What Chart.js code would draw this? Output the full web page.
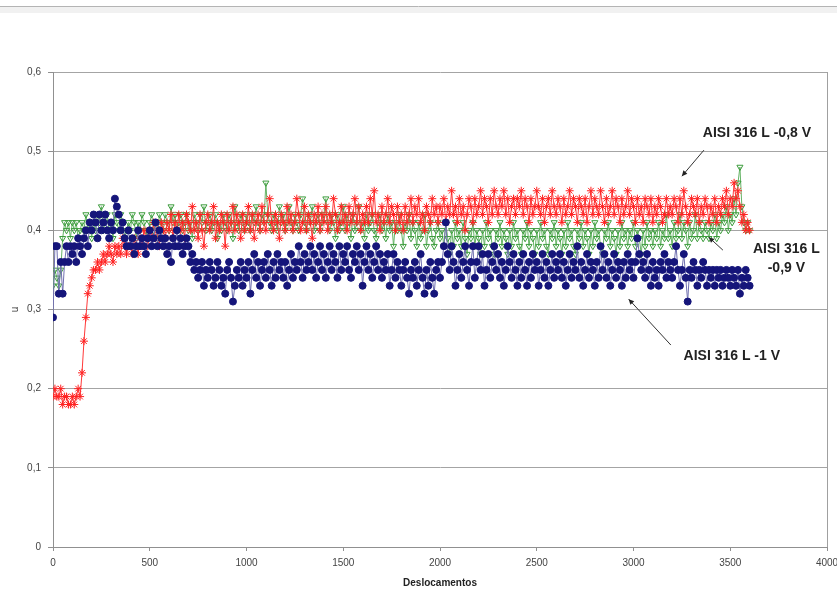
<!DOCTYPE html>
<html>
<head>
<meta charset="utf-8">
<script src="https://cdn.jsdelivr.net/npm/chart.js@4.4.0/dist/chart.umd.min.js"></script>
<style>
  html, body { margin: 0; padding: 0; background: #ffffff; }
  #wrap { width: 837px; height: 593px; position: relative; }
</style>
</head>
<body>
<div id="wrap"><canvas id="grafico" width="837" height="593"></canvas></div>
<script>
// Deslocamentos (eixo x)
const deslocamentos = [
  0,10,20,30,40,50,60,70,80,90,100,110,120,130,140,150,160,170,180,190,
  200,210,220,230,240,250,260,270,280,290,300,310,320,330,340,350,360,370,380,390,
  400,410,420,430,440,450,460,470,480,490,500,510,520,530,540,550,560,570,580,590,
  600,610,620,630,640,650,660,670,680,690,700,710,720,730,740,750,760,770,780,790,
  800,810,820,830,840,850,860,870,880,890,900,910,920,930,940,950,960,970,980,990,
  1000,1010,1020,1030,1040,1050,1060,1070,1080,1090,1100,1110,1120,1130,1140,1150,1160,1170,1180,1190,
  1200,1210,1220,1230,1240,1250,1260,1270,1280,1290,1300,1310,1320,1330,1340,1350,1360,1370,1380,1390,
  1400,1410,1420,1430,1440,1450,1460,1470,1480,1490,1500,1510,1520,1530,1540,1550,1560,1570,1580,1590,
  1600,1610,1620,1630,1640,1650,1660,1670,1680,1690,1700,1710,1720,1730,1740,1750,1760,1770,1780,1790,
  1800,1810,1820,1830,1840,1850,1860,1870,1880,1890,1900,1910,1920,1930,1940,1950,1960,1970,1980,1990,
  2000,2010,2020,2030,2040,2050,2060,2070,2080,2090,2100,2110,2120,2130,2140,2150,2160,2170,2180,2190,
  2200,2210,2220,2230,2240,2250,2260,2270,2280,2290,2300,2310,2320,2330,2340,2350,2360,2370,2380,2390,
  2400,2410,2420,2430,2440,2450,2460,2470,2480,2490,2500,2510,2520,2530,2540,2550,2560,2570,2580,2590,
  2600,2610,2620,2630,2640,2650,2660,2670,2680,2690,2700,2710,2720,2730,2740,2750,2760,2770,2780,2790,
  2800,2810,2820,2830,2840,2850,2860,2870,2880,2890,2900,2910,2920,2930,2940,2950,2960,2970,2980,2990,
  3000,3010,3020,3030,3040,3050,3060,3070,3080,3090,3100,3110,3120,3130,3140,3150,3160,3170,3180,3190,
  3200,3210,3220,3230,3240,3250,3260,3270,3280,3290,3300,3310,3320,3330,3340,3350,3360,3370,3380,3390,
  3400,3410,3420,3430,3440,3450,3460,3470,3480,3490,3500,3510,3520,3530,3540,3550,3560,3570,3580,3590,
  3600
];

// Coeficiente de atrito - AISI 316 L, -1 V
const atrito_1V = [
  0.29,0.38,0.38,0.32,0.36,0.32,0.36,0.38,0.36,0.38, 0.37,0.38,0.36,0.39,0.38,0.37,0.39,0.40,0.38,0.41,
  0.40,0.42,0.41,0.39,0.42,0.40,0.41,0.42,0.40,0.39, 0.41,0.40,0.44,0.43,0.42,0.40,0.41,0.39,0.38,0.40,
  0.38,0.39,0.37,0.38,0.40,0.38,0.39,0.38,0.37,0.39, 0.40,0.38,0.39,0.41,0.38,0.40,0.39,0.38,0.39,0.37,
  0.38,0.36,0.39,0.38,0.40,0.38,0.39,0.37,0.38,0.39, 0.38,0.36,0.37,0.35,0.36,0.34,0.35,0.36,0.33,0.35,
  0.34,0.36,0.35,0.33,0.34,0.36,0.35,0.33,0.34,0.32, 0.35,0.36,0.34,0.31,0.33,0.35,0.34,0.36,0.33,0.35,
  0.34,0.36,0.32,0.35,0.37,0.34,0.36,0.33,0.35,0.36, 0.34,0.37,0.35,0.33,0.36,0.34,0.37,0.35,0.36,0.34,
  0.36,0.33,0.35,0.37,0.34,0.36,0.35,0.38,0.36,0.34, 0.37,0.35,0.36,0.38,0.35,0.37,0.34,0.36,0.38,0.35,
  0.37,0.34,0.36,0.38,0.35,0.37,0.36,0.34,0.38,0.35, 0.37,0.36,0.38,0.35,0.34,0.37,0.36,0.38,0.35,0.37,
  0.33,0.36,0.38,0.35,0.37,0.34,0.36,0.38,0.35,0.37, 0.34,0.36,0.35,0.37,0.33,0.35,0.37,0.34,0.36,0.35,
  0.33,0.35,0.36,0.34,0.32,0.35,0.34,0.36,0.33,0.35, 0.37,0.34,0.32,0.35,0.33,0.36,0.34,0.32,0.35,0.36,
  0.34,0.36,0.38,0.41,0.37,0.35,0.38,0.36,0.33,0.35, 0.37,0.34,0.36,0.38,0.35,0.33,0.36,0.38,0.34,0.36,
  0.38,0.35,0.37,0.33,0.35,0.37,0.34,0.36,0.38,0.35, 0.37,0.34,0.36,0.33,0.35,0.38,0.36,0.34,0.37,0.35,
  0.33,0.36,0.34,0.37,0.35,0.33,0.36,0.34,0.37,0.35, 0.36,0.33,0.35,0.37,0.34,0.36,0.33,0.35,0.37,0.34,
  0.36,0.35,0.37,0.34,0.36,0.33,0.35,0.37,0.34,0.36, 0.35,0.38,0.34,0.36,0.33,0.35,0.37,0.34,0.36,0.35,
  0.33,0.36,0.34,0.38,0.35,0.37,0.34,0.36,0.33,0.35, 0.37,0.34,0.36,0.35,0.33,0.36,0.34,0.37,0.35,0.36,
  0.34,0.36,0.39,0.37,0.35,0.36,0.34,0.37,0.35,0.33, 0.36,0.34,0.35,0.33,0.36,0.35,0.37,0.34,0.36,0.35,
  0.34,0.36,0.38,0.35,0.33,0.35,0.37,0.34,0.31,0.35, 0.34,0.36,0.35,0.33,0.35,0.34,0.36,0.35,0.33,0.35,
  0.34,0.35,0.33,0.35,0.34,0.35,0.33,0.34,0.35,0.34, 0.33,0.35,0.34,0.33,0.35,0.32,0.34,0.33,0.35,0.34,
  0.33
];

// Coeficiente de atrito - AISI 316 L, -0,8 V
const atrito_08V = [
  0.19,0.20,0.19,0.19,0.20,0.18,0.19,0.19,0.18,0.18, 0.19,0.18,0.19,0.20,0.19,0.22,0.26,0.29,0.32,0.33,
  0.34,0.35,0.35,0.36,0.35,0.36,0.37,0.36,0.37,0.38, 0.37,0.36,0.38,0.37,0.38,0.37,0.39,0.38,0.37,0.38,
  0.38,0.37,0.39,0.38,0.37,0.39,0.38,0.40,0.39,0.38, 0.40,0.39,0.41,0.39,0.40,0.38,0.41,0.40,0.39,0.41,
  0.40,0.42,0.39,0.41,0.40,0.42,0.40,0.41,0.39,0.42, 0.41,0.40,0.43,0.40,0.41,0.39,0.42,0.40,0.38,0.41,
  0.42,0.40,0.41,0.43,0.39,0.41,0.40,0.42,0.41,0.38, 0.42,0.40,0.41,0.43,0.40,0.42,0.41,0.39,0.42,0.40,
  0.41,0.43,0.40,0.42,0.39,0.41,0.42,0.40,0.43,0.41, 0.40,0.42,0.44,0.41,0.40,0.42,0.41,0.39,0.42,0.41,
  0.40,0.43,0.41,0.42,0.40,0.41,0.44,0.42,0.40,0.41, 0.43,0.40,0.42,0.41,0.39,0.42,0.41,0.43,0.40,0.42,
  0.41,0.43,0.40,0.42,0.41,0.44,0.42,0.40,0.41,0.43, 0.41,0.42,0.40,0.43,0.41,0.42,0.44,0.41,0.43,0.40,
  0.42,0.41,0.43,0.41,0.44,0.42,0.45,0.41,0.42,0.40, 0.43,0.41,0.42,0.44,0.41,0.43,0.42,0.40,0.43,0.41,
  0.42,0.40,0.43,0.41,0.42,0.44,0.41,0.43,0.42,0.44, 0.41,0.42,0.40,0.43,0.42,0.41,0.44,0.42,0.43,0.41,
  0.43,0.42,0.44,0.41,0.43,0.42,0.45,0.42,0.43,0.41, 0.44,0.42,0.43,0.40,0.42,0.44,0.43,0.41,0.44,0.42,
  0.43,0.45,0.42,0.44,0.43,0.41,0.44,0.42,0.45,0.43, 0.42,0.44,0.43,0.45,0.42,0.44,0.41,0.43,0.44,0.42,
  0.44,0.43,0.45,0.42,0.44,0.43,0.41,0.44,0.42,0.43, 0.45,0.43,0.42,0.44,0.41,0.43,0.44,0.42,0.45,0.43,
  0.42,0.44,0.43,0.41,0.44,0.42,0.43,0.45,0.42,0.44, 0.43,0.41,0.44,0.43,0.42,0.44,0.41,0.43,0.45,0.42,
  0.44,0.43,0.42,0.45,0.43,0.41,0.44,0.42,0.43,0.45, 0.42,0.44,0.43,0.41,0.44,0.42,0.43,0.45,0.42,0.44,
  0.43,0.41,0.44,0.42,0.43,0.41,0.44,0.43,0.42,0.44, 0.41,0.43,0.42,0.44,0.43,0.41,0.42,0.44,0.42,0.43,
  0.42,0.44,0.43,0.41,0.44,0.42,0.45,0.43,0.41,0.42, 0.44,0.43,0.42,0.44,0.41,0.43,0.42,0.44,0.43,0.41,
  0.43,0.42,0.44,0.41,0.43,0.42,0.44,0.43,0.45,0.42, 0.44,0.43,0.46,0.44,0.45,0.43,0.41,0.42,0.40,0.41,
  0.40
];

// Coeficiente de atrito - AISI 316 L, -0,9 V
const atrito_09V = [
  0.33,0.35,0.34,0.33,0.35,0.39,0.41,0.40,0.41,0.39, 0.41,0.40,0.41,0.39,0.40,0.41,0.40,0.42,0.40,0.41,
  0.39,0.41,0.40,0.42,0.41,0.43,0.40,0.41,0.42,0.40, 0.41,0.39,0.42,0.41,0.40,0.42,0.41,0.39,0.40,0.41,
  0.40,0.42,0.41,0.39,0.41,0.40,0.42,0.41,0.40,0.39, 0.41,0.42,0.40,0.41,0.39,0.42,0.41,0.40,0.42,0.41,
  0.40,0.43,0.41,0.42,0.40,0.41,0.42,0.40,0.41,0.42, 0.40,0.41,0.39,0.42,0.41,0.40,0.42,0.41,0.43,0.40,
  0.41,0.42,0.40,0.41,0.42,0.39,0.41,0.40,0.42,0.41, 0.40,0.42,0.41,0.39,0.43,0.41,0.40,0.42,0.41,0.40,
  0.42,0.41,0.40,0.42,0.41,0.43,0.41,0.40,0.42,0.41, 0.46,0.42,0.41,0.40,0.42,0.41,0.40,0.43,0.41,0.42,
  0.40,0.41,0.43,0.41,0.40,0.42,0.41,0.40,0.42,0.44, 0.41,0.40,0.42,0.41,0.43,0.40,0.41,0.42,0.40,0.41,
  0.42,0.44,0.41,0.40,0.42,0.41,0.39,0.42,0.40,0.41, 0.43,0.40,0.42,0.41,0.39,0.42,0.40,0.41,0.43,0.40,
  0.41,0.39,0.42,0.40,0.41,0.42,0.40,0.39,0.41,0.42, 0.40,0.41,0.39,0.42,0.40,0.41,0.38,0.41,0.40,0.42,
  0.40,0.38,0.41,0.40,0.42,0.39,0.41,0.40,0.38,0.41, 0.39,0.40,0.42,0.38,0.40,0.41,0.39,0.38,0.40,0.41,
  0.39,0.40,0.38,0.41,0.39,0.37,0.40,0.38,0.41,0.39, 0.40,0.38,0.41,0.39,0.37,0.40,0.39,0.41,0.38,0.40,
  0.39,0.37,0.40,0.38,0.41,0.39,0.40,0.38,0.37,0.40, 0.39,0.41,0.38,0.40,0.39,0.37,0.40,0.38,0.41,0.39,
  0.40,0.38,0.37,0.40,0.39,0.41,0.38,0.40,0.39,0.37, 0.40,0.38,0.41,0.39,0.40,0.38,0.37,0.40,0.39,0.41,
  0.38,0.40,0.39,0.37,0.40,0.38,0.41,0.39,0.40,0.38, 0.37,0.40,0.39,0.41,0.38,0.40,0.39,0.37,0.40,0.38,
  0.41,0.39,0.40,0.38,0.37,0.40,0.39,0.41,0.38,0.40, 0.39,0.37,0.40,0.38,0.41,0.39,0.40,0.38,0.40,0.39,
  0.41,0.38,0.40,0.39,0.37,0.40,0.38,0.41,0.39,0.40, 0.38,0.40,0.39,0.41,0.38,0.40,0.39,0.42,0.39,0.40,
  0.38,0.41,0.39,0.40,0.42,0.39,0.41,0.40,0.38,0.41, 0.39,0.40,0.42,0.39,0.41,0.40,0.39,0.41,0.40,0.39,
  0.41,0.40,0.42,0.39,0.41,0.40,0.42,0.41,0.43,0.40, 0.42,0.41,0.44,0.42,0.46,0.48,0.43,0.41,0.40,0.41,
  0.40
];

const rotulos = ['AISI 316 L -1 V', 'AISI 316 L -0,8 V', 'AISI 316 L -0,9 V'];

const pontos = (valores) => deslocamentos.map((x, i) => ({ x: x, y: valores[i] }));

// Moldura da área do gráfico e linha superior do quadro
const moldura = {
  id: 'moldura',
  beforeDraw(chart) {
    const ctx = chart.ctx;
    ctx.save();
    ctx.fillStyle = '#ffffff';
    ctx.fillRect(0, 0, chart.width, chart.height);
    ctx.fillStyle = '#f1f1f1';
    ctx.fillRect(0, 7, chart.width, 6);
    ctx.strokeStyle = '#b4b4b4';
    ctx.lineWidth = 1;
    ctx.beginPath();
    ctx.moveTo(0, 6.5);
    ctx.lineTo(chart.width, 6.5);
    ctx.stroke();
    ctx.restore();
  },
  afterDraw(chart) {
    const a = chart.chartArea;
    const ctx = chart.ctx;
    ctx.save();
    ctx.strokeStyle = '#a0a0a0';
    ctx.lineWidth = 1;
    ctx.beginPath();
    ctx.moveTo(Math.round(a.right) + 0.5, a.top);
    ctx.lineTo(Math.round(a.right) + 0.5, a.bottom);
    ctx.stroke();
    ctx.restore();
  }
};

// Rótulos das curvas com setas
const anotacoes = {
  id: 'anotacoes',
  afterDatasetsDraw(chart, args, opts) {
    const ctx = chart.ctx;
    const sx = chart.scales.x, sy = chart.scales.y;
    ctx.save();
    ctx.fillStyle = '#222222';
    ctx.strokeStyle = '#333333';
    ctx.lineWidth = 1;
    ctx.font = 'bold 14px "Liberation Sans", Arial, sans-serif';
    ctx.textAlign = 'center';
    ctx.textBaseline = 'middle';
    for (const n of opts.itens) {
      n.linhas.forEach((t, k) => {
        ctx.fillText(t, sx.getPixelForValue(n.x), sy.getPixelForValue(n.y) + k * 19);
      });
      const x0 = sx.getPixelForValue(n.seta[0]), y0 = sy.getPixelForValue(n.seta[1]);
      const x1 = sx.getPixelForValue(n.seta[2]), y1 = sy.getPixelForValue(n.seta[3]);
      ctx.beginPath();
      ctx.moveTo(x0, y0);
      ctx.lineTo(x1, y1);
      ctx.stroke();
      const ang = Math.atan2(y1 - y0, x1 - x0);
      ctx.beginPath();
      ctx.moveTo(x1, y1);
      ctx.lineTo(x1 - 6 * Math.cos(ang - 0.45), y1 - 6 * Math.sin(ang - 0.45));
      ctx.lineTo(x1 - 6 * Math.cos(ang + 0.45), y1 - 6 * Math.sin(ang + 0.45));
      ctx.closePath();
      ctx.fill();
    }
    ctx.restore();
  }
};

new Chart(document.getElementById('grafico'), {
  type: 'scatter',
  data: {
    datasets: [
      {
        label: rotulos[0],
        data: pontos(atrito_1V),
        showLine: true,
        borderColor: '#7070b0',
        borderWidth: 1,
        pointStyle: 'circle',
        pointRadius: 3.5,
        pointBackgroundColor: '#15157a',
        pointBorderColor: '#15157a',
        pointBorderWidth: 1
      },
      {
        label: rotulos[1],
        data: pontos(atrito_08V),
        showLine: true,
        borderColor: '#ff3a3a',
        borderWidth: 1,
        pointStyle: 'star',
        pointRadius: 4,
        pointBackgroundColor: 'rgba(0,0,0,0)',
        pointBorderColor: '#ff2222',
        pointBorderWidth: 1
      },
      {
        label: rotulos[2],
        data: pontos(atrito_09V),
        showLine: true,
        borderColor: '#66b466',
        borderWidth: 1,
        pointStyle: 'triangle',
        pointRotation: 180,
        pointRadius: 3.5,
        pointBackgroundColor: 'rgba(0,0,0,0)',
        pointBorderColor: '#3c9c3c',
        pointBorderWidth: 1
      }
    ]
  },
  options: {
    responsive: false,
    animation: false,
    events: [],
    layout: { autoPadding: false, padding: { top: 72, right: 10, bottom: 0, left: 0 } },
    plugins: {
      legend: { display: false },
      tooltip: { enabled: false },
      anotacoes: {
        itens: [
          { linhas: ['AISI 316 L -0,8 V'], x: 3638, y: 0.5227, seta: [3364, 0.5013, 3250, 0.4684] },
          { linhas: ['AISI 316 L', '-0,9 V'], x: 3790, y: 0.3763, seta: [3462, 0.375, 3389, 0.3914] },
          { linhas: ['AISI 316 L -1 V'], x: 3508, y: 0.2412, seta: [3193, 0.2551, 2975, 0.3131] }
        ]
      }
    },
    scales: {
      x: {
        type: 'linear',
        min: 0,
        max: 4000,
        afterFit(s) { s.height = 46; s.paddingLeft = 0; s.paddingRight = 0; },
        ticks: {
          stepSize: 500,
          color: '#444444',
          padding: 6,
          maxRotation: 0,
          font: { family: '"Liberation Sans", Arial, sans-serif', size: 10 },
          callback: (v) => String(v)
        },
        grid: { drawOnChartArea: false, drawTicks: true, tickLength: 4, tickColor: '#909090' },
        border: { display: true, color: '#909090' },
        title: {
          display: true,
          text: 'Deslocamentos',
          color: '#222222',
          padding: { top: 0, bottom: 4 },
          font: { family: '"Liberation Sans", Arial, sans-serif', size: 10, weight: 'bold' }
        }
      },
      y: {
        type: 'linear',
        min: 0,
        max: 0.6,
        afterFit(s) { s.width = 53; s.paddingTop = 0; s.paddingBottom = 0; },
        ticks: {
          stepSize: 0.1,
          color: '#444444',
          padding: 7,
          font: { family: '"Liberation Sans", Arial, sans-serif', size: 10 },
          callback: (v) => (v === 0 ? '0' : v.toFixed(1).replace('.', ','))
        },
        grid: { color: '#a4a4a4', drawTicks: true, tickLength: 5, tickColor: '#909090' },
        border: { display: true, color: '#909090' },
        title: {
          display: true,
          text: 'u',
          color: '#333333',
          padding: { top: 9, bottom: 0 },
          font: { family: '"Liberation Sans", Arial, sans-serif', size: 10 }
        }
      }
    }
  },
  plugins: [moldura, anotacoes]
});
</script>
</body>
</html>
